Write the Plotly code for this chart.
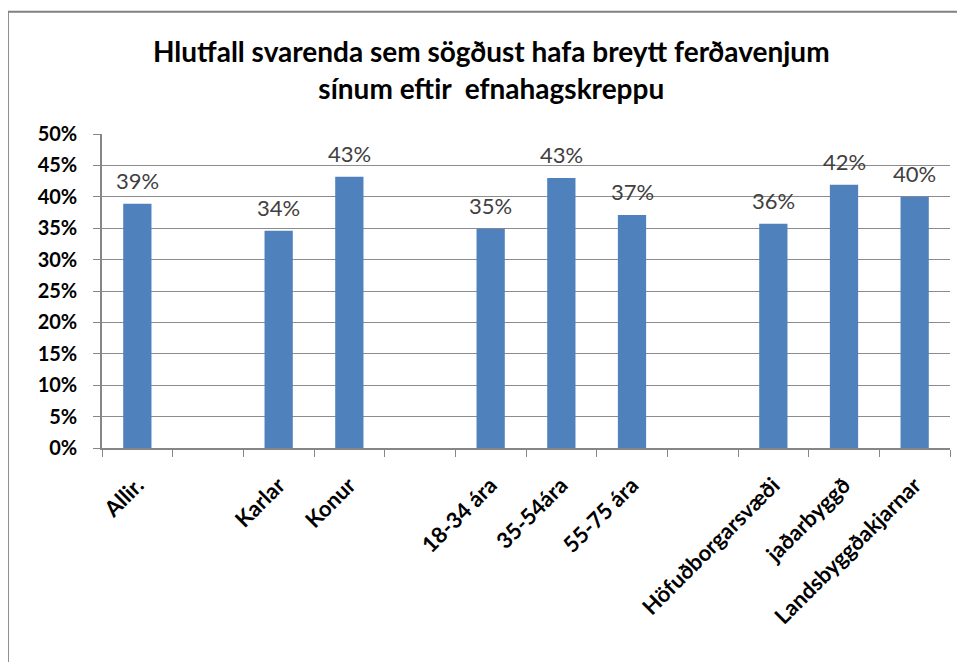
import plotly.graph_objects as go

categories = ["Allir.", " ", "Karlar", "Konur", "  ", "18-34 ára", "35-54ára", "55-75 ára",
              "   ", "Höfuðborgarsvæði", "jaðarbyggð", "Landsbyggðakjarnar"]
values = [38.9, None, 34.6, 43.2, None, 34.9, 43.0, 37.1, None, 35.7, 41.9, 40.0]
value_labels = ["39%", "", "34%", "43%", "", "35%", "43%", "37%", "", "36%", "42%", "40%"]
y_ticks = [0, 5, 10, 15, 20, 25, 30, 35, 40, 45, 50]
y_tick_labels = [f"{v}%" for v in y_ticks]

fig = go.Figure()
fig.add_trace(go.Bar(
    x=categories, y=values, width=0.4,
    marker=dict(color="#4F81BD", line=dict(width=0)),
    hoverinfo="skip",
))

annotations = []
for c, v, t in zip(categories, values, value_labels):
    if v is None:
        continue
    annotations.append(dict(x=c, y=v, xref="x", yref="y", text=t, showarrow=False,
                            yanchor="bottom", yshift=8,
                            font=dict(family="Lato", size=22, color="#404040")))

fig.update_layout(
    width=957, height=654,
    margin=dict(l=94, r=15, t=126, b=214, autoexpand=False),
    paper_bgcolor="white", plot_bgcolor="white",
    showlegend=False,
    title=dict(text="Hlutfall svarenda sem sögðust hafa breytt ferðavenjum<br>sínum eftir  efnahagskreppu",
               x=0.505, xanchor="center", y=0.917, yanchor="middle",
               font=dict(family="Lato", size=28, color="black", weight="bold")),
    annotations=annotations,
    shapes=[
        dict(type="line", xref="paper", yref="paper", x0=-0.111, x1=1.02, y0=1.389, y1=1.389,
             line=dict(color="#808080", width=2)),
        dict(type="line", xref="paper", yref="paper", x0=-0.111, x1=-0.111, y0=1.389, y1=-0.7,
             line=dict(color="#808080", width=2)),
    ],
    xaxis=dict(
        type="category", categoryorder="array", categoryarray=categories,
        tickson="boundaries", ticks="outside", ticklen=7, tickcolor="#868686",
        showline=True, linecolor="#868686", linewidth=1.5,
        showgrid=False, tickangle=-45, automargin=False, ticklabelstandoff=14,
        tickfont=dict(family="Lato", size=22, color="black", weight="bold"),
        range=[-0.5, 11.5],
    ),
    yaxis=dict(
        range=[0, 50], tickvals=y_ticks, ticktext=y_tick_labels,
        ticks="outside", ticklen=7, tickcolor="#868686",
        showline=True, linecolor="#868686", linewidth=1.5,
        showgrid=True, gridcolor="#8c8c8c", gridwidth=1,
        zeroline=False, automargin=False, ticklabelstandoff=12,
        tickfont=dict(family="Lato", size=20, color="black", weight="bold"),
    ),
)

fig.write_html("out.html")
